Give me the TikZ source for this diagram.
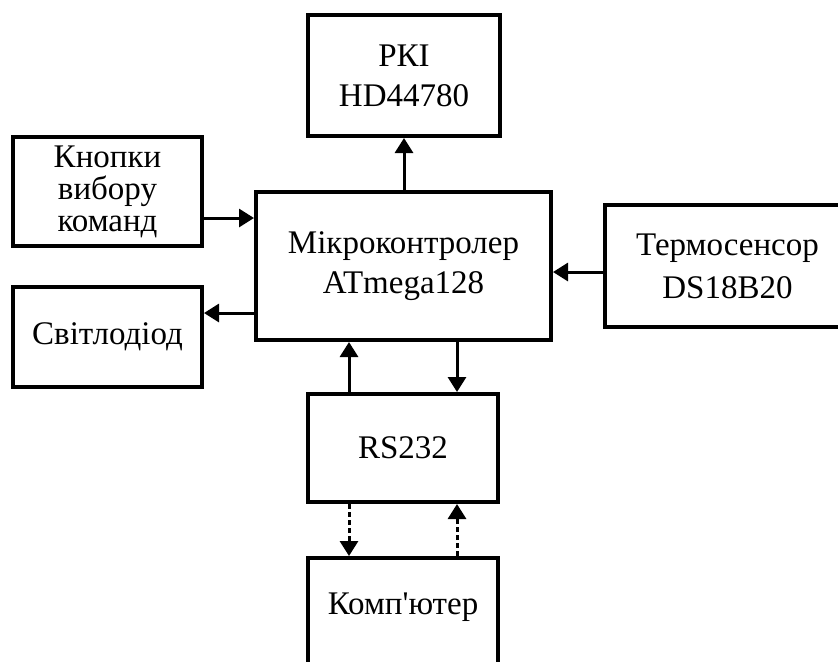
\documentclass[tikz,border=0pt]{standalone}
\usepackage{fontspec}
\setmainfont{Liberation Serif}[Ligatures=TeXOff]
\usetikzlibrary{arrows.meta}
\tikzset{>={Triangle[length=7.5pt,width=9pt]}}
\tikzstyle{block}=[draw, line width=2pt, inner sep=0pt, align=center, font=\fontsize{16.5}{20}\selectfont]
\tikzstyle{link}=[->, line width=1.5pt]
\tikzstyle{serial}=[->, line width=1.5pt, dash pattern=on 2.5pt off 1.5pt]

\begin{document}
\begin{tikzpicture}[x=0.5pt, y=-0.5pt]
    \useasboundingbox (0,0) rectangle (838,661);
    \clip (0,0) rectangle (838,661);

    % Blocks of the system
    \node[block, minimum width=96pt, minimum height=60.5pt] (lcd) at (404,75.5) {РКІ\\HD44780};
    \node[block, minimum width=147.5pt, minimum height=74pt] (mcu) at (403.5,266) {Мікроконтролер\\ATmega128};
    \node[block, minimum width=94.5pt, minimum height=54.5pt, font=\fontsize{16.5}{16}\selectfont] (keys) at (107.5,191.5) {Кнопки\\вибору\\команд};
    \node[block, minimum width=94.5pt, minimum height=50pt] (led) at (107.5,337) {Світлодіод};
    \node[block, minimum width=122.5pt, minimum height=61pt, font=\fontsize{16.5}{21.5}\selectfont] (sensor) at (727.5,266) {Термосенсор\\DS18B20};
    \node[block, minimum width=95pt, minimum height=54pt] (rs) at (403,448) {RS232};
    \node[block, minimum width=95pt, minimum height=71pt] (pc) at (403,629) {}; % box runs past the bottom edge
    \node[font=\fontsize{16.5}{20}\selectfont] (pclabel) at (403,607) {Комп'ютер};

    % Connections to the microcontroller
    \draw[link] (mcu.north -| lcd.south) -- (lcd.south);
    \draw[link] (keys.east |- 0,218) -- (mcu.west |- 0,218);
    \draw[link] (mcu.west |- 0,313) -- (led.east |- 0,313);
    \draw[link] (sensor.west |- 0,272) -- (mcu.east |- 0,272);
    \draw[link] (rs.north -| 349,0) -- (mcu.south -| 349,0);
    \draw[link] (mcu.south -| 457,0) -- (rs.north -| 457,0);

    % Serial link to the computer
    \draw[serial] (rs.south -| 349,0) -- (pc.north -| 349,0);
    \draw[serial] (pc.north -| 457,0) -- (rs.south -| 457,0);
\end{tikzpicture}
\end{document}
